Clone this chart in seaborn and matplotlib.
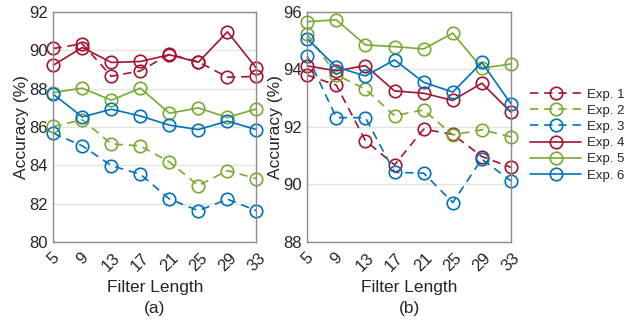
import matplotlib
matplotlib.use('Agg')
import matplotlib.pyplot as plt
import seaborn as sns
import pandas as pd

filter_lengths = [5, 9, 13, 17, 21, 25, 29, 33]
exp_names = ['Exp. 1', 'Exp. 2', 'Exp. 3', 'Exp. 4', 'Exp. 5', 'Exp. 6']

# panel (a) accuracies
acc_a_exp1 = [90.09, 90.33, 88.64, 88.92, 89.79, 89.39, 88.59, 88.63]
acc_a_exp2 = [86.02, 86.37, 85.11, 85.01, 84.17, 82.94, 83.72, 83.30]
acc_a_exp3 = [85.67, 85.01, 83.98, 83.53, 82.24, 81.63, 82.23, 81.63]
acc_a_exp4 = [89.22, 90.14, 89.36, 89.41, 89.76, 89.37, 90.96, 89.06]
acc_a_exp5 = [87.79, 88.02, 87.39, 88.02, 86.71, 86.99, 86.49, 86.94]
acc_a_exp6 = [87.70, 86.52, 86.92, 86.57, 86.09, 85.86, 86.30, 85.86]

# panel (b) accuracies
acc_b_exp1 = [93.80, 93.45, 91.52, 90.68, 91.92, 91.74, 90.97, 90.59]
acc_b_exp2 = [95.22, 93.81, 93.31, 92.39, 92.59, 91.72, 91.90, 91.65]
acc_b_exp3 = [94.47, 92.32, 92.32, 90.42, 90.39, 89.37, 90.88, 90.12]
acc_b_exp4 = [94.12, 93.95, 94.13, 93.25, 93.17, 92.92, 93.52, 92.51]
acc_b_exp5 = [95.66, 95.72, 94.85, 94.79, 94.71, 95.26, 94.04, 94.19]
acc_b_exp6 = [95.06, 94.08, 93.77, 94.33, 93.55, 93.21, 94.24, 92.80]

red = '#A2142F'
green = '#77AC30'
blue = '#0072BD'
dash = (0, (5, 3.5))
series_style = {
    'Exp. 1': (red, dash),
    'Exp. 2': (green, dash),
    'Exp. 3': (blue, dash),
    'Exp. 4': (red, '-'),
    'Exp. 5': (green, '-'),
    'Exp. 6': (blue, '-'),
}


def to_frame(cols):
    rows = []
    for name, vals in zip(exp_names, cols):
        for fl, v in zip(filter_lengths, vals):
            rows.append({'Filter Length': fl, 'Accuracy': v, 'Exp': name})
    return pd.DataFrame(rows)


df_a = to_frame([acc_a_exp1, acc_a_exp2, acc_a_exp3, acc_a_exp4, acc_a_exp5, acc_a_exp6])
df_b = to_frame([acc_b_exp1, acc_b_exp2, acc_b_exp3, acc_b_exp4, acc_b_exp5, acc_b_exp6])

sns.set_style('white')
plt.rcParams['font.family'] = ['Liberation Sans', 'DejaVu Sans']

fig = plt.figure(figsize=(6.27, 3.2), dpi=100)
ax_a = fig.add_axes([0.085, 0.244, 0.324, 0.719])
ax_b = fig.add_axes([0.490, 0.244, 0.325, 0.719])

text_col = '#262626'
for ax, df, ylim, yticks, tag in [
    (ax_a, df_a, (80, 92), [80, 82, 84, 86, 88, 90, 92], '(a)'),
    (ax_b, df_b, (88, 96), [88, 90, 92, 94, 96], '(b)'),
]:
    for name in exp_names:
        col, ls = series_style[name]
        sns.lineplot(data=df[df['Exp'] == name], x='Filter Length', y='Accuracy',
                     ax=ax, color=col, linestyle=ls, linewidth=1.2,
                     marker='o', markersize=9, markerfacecolor='none',
                     markeredgecolor=col, markeredgewidth=1.2,
                     label=name, legend=False, clip_on=False)
    ax.set_xlim(5, 33)
    ax.set_ylim(*ylim)
    ax.set_xticks(filter_lengths)
    ax.set_xticklabels([str(f) for f in filter_lengths], rotation=45,
                       ha='center', va='top', fontsize=12, color=text_col)
    ax.set_yticks(yticks)
    ax.set_yticklabels([str(t) for t in yticks], fontsize=12, color=text_col)
    ax.yaxis.grid(True, color='#e3e3e3', linewidth=1)
    ax.xaxis.grid(False)
    ax.set_axisbelow(True)
    ax.tick_params(axis='x', direction='in', length=3, color='#888888', pad=6)
    ax.tick_params(axis='y', direction='in', length=0, pad=4)
    for sp in ax.spines.values():
        sp.set_color('#8c8c8c')
        sp.set_linewidth(1)
    ax.set_xlabel('Filter Length', fontsize=12.5, color=text_col, labelpad=4)
    ax.set_ylabel('Accuracy (%)', fontsize=12.5, color=text_col, labelpad=0)
    ax.text(0.5, -0.29, tag, transform=ax.transAxes, ha='center', va='center',
            fontsize=12.5, color=text_col)

handles, labels = ax_b.get_legend_handles_labels()
fig.legend(handles, labels, loc='center left', bbox_to_anchor=(0.845, 0.578),
           frameon=False, fontsize=9.5, handlelength=3.9, labelspacing=0.3,
           handletextpad=0.4, borderpad=0, borderaxespad=0)

fig.savefig('out.png', dpi=100)
